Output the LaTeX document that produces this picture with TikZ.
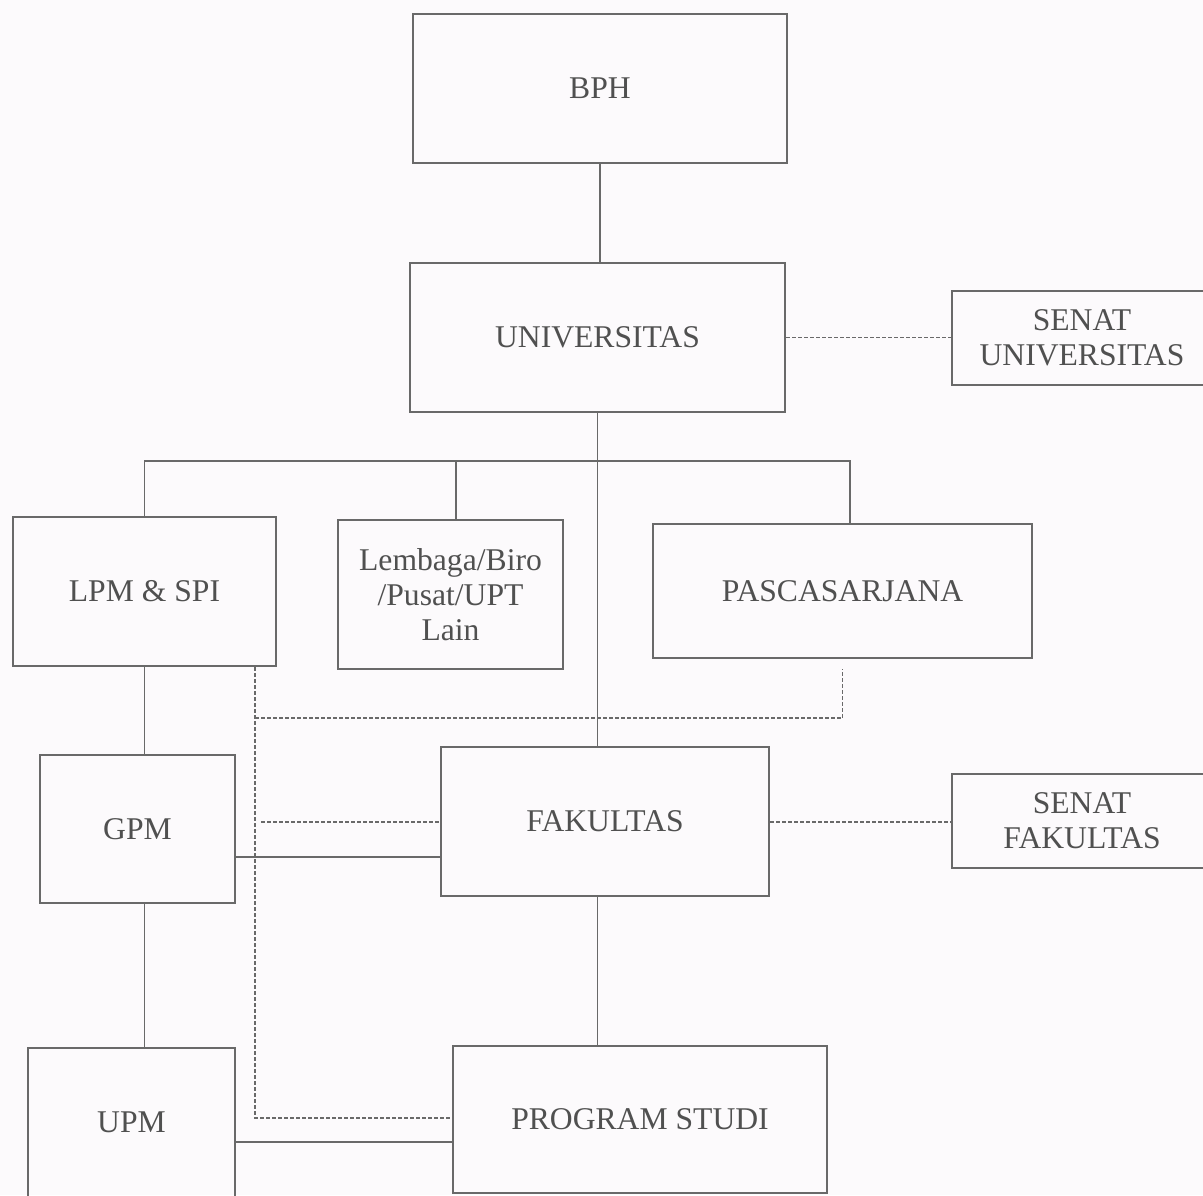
\documentclass[tikz,border=0pt]{standalone}
\usepackage{fontspec}
\setmainfont{Liberation Serif}
\usetikzlibrary{positioning, calc}
\definecolor{linegray}{RGB}{105,105,105}
\definecolor{textgray}{RGB}{80,80,80}
\definecolor{paper}{RGB}{252,250,252}
\begin{document}
\begin{tikzpicture}[x=0.2mm,y=-0.2mm,
	unit/.style={draw=linegray,line width=0.4mm,rectangle,align=center,text=textgray,inner sep=0pt,font=\fontsize{18}{20}\selectfont},
	link/.style={draw=linegray,line width=0.35mm},
	dotlink/.style={draw=linegray,line width=0.3mm,dash pattern=on 0.7mm off 0.5mm}]
			\fill[paper] (0,0) rectangle (1203,1195);
			\useasboundingbox (0,0) rectangle (1203,1195);
			\clip (0,0) rectangle (1203,1195);
			\node[unit,minimum width=74.8mm,minimum height=29.8mm] (bph) at (600,88.5) {BPH};
			\node[unit,minimum width=75mm,minimum height=29.8mm] (univ) at (597.5,337.5) {UNIVERSITAS};
			\node[unit,minimum width=52mm,minimum height=18.8mm] (senatu) at (1082,338) {SENAT\\UNIVERSITAS};
			\node[unit,minimum width=52.6mm,minimum height=29.8mm] (lpm) at (144.5,591.5) {LPM \& SPI};
			\node[unit,minimum width=45mm,minimum height=29.8mm] (lembaga) at (450.5,594.5) {Lembaga/Biro\\/Pusat/UPT\\Lain};
			\node[unit,minimum width=75.8mm,minimum height=26.8mm] (pasca) at (842.5,591) {PASCASARJANA};
			\node[unit,minimum width=39mm,minimum height=29.6mm] (gpm) at (137.5,829) {GPM};
			\node[unit,minimum width=65.6mm,minimum height=29.8mm] (fak) at (605,821.5) {FAKULTAS};
			\node[unit,minimum width=52mm,minimum height=18.8mm] (senatf) at (1082,821) {SENAT\\FAKULTAS};
			\node[unit,minimum width=41.4mm,minimum height=29.8mm] (upm) at (131.5,1122.5) {UPM};
			\node[unit,minimum width=74.8mm,minimum height=29.4mm] (prodi) at (640,1119.5) {PROGRAM STUDI};
			\coordinate (bar) at (0,461);
			\coordinate (gf) at (0,857);
			\coordinate (up) at (0,1142);
			\coordinate (dl) at (255,0);
			\coordinate (dh) at (0,718);
			\coordinate (df) at (0,822);
			\coordinate (dp) at (0,1118);
			\coordinate (pascatop) at ($(pasca.north)+(7.5,0)$);
			\coordinate (lembagatop) at ($(lembaga.north)+(5.5,0)$);
			% garis komando
			\draw[link] (bph.south) -- (bph.south |- univ.north);
			\draw[link] (univ.south) -- (univ.south |- fak.north);
			\draw[link] (lpm.north) |- (bar -| pascatop) -- (pascatop);
			\draw[link] (lembagatop) -- (lembagatop |- bar);
			\draw[link] (lpm.south) -- (lpm.south |- gpm.north);
			\draw[link] (lpm.south |- gpm.south) -- (lpm.south |- upm.north);
			\draw[link] (gpm.east |- gf) -- (fak.west |- gf);
			\draw[link] (upm.east |- up) -- (prodi.west |- up);
			\draw[link] (fak.south -| univ.south) -- (univ.south |- prodi.north);
			% garis koordinasi
			\draw[dotlink] (univ.east) -- (senatu.west |- univ.east);
			\draw[dotlink] (fak.east |- df) -- (senatf.west |- df);
			\draw[dotlink] (lpm.south -| dl) -- (dl |- dp) -- (prodi.west |- dp);
			\draw[dotlink] (dl |- dh) -- (dh -| pasca.south) -- ($(pasca.south)+(0,10)$);
			\draw[dotlink] ($(dl |- df)+(6,0)$) -- (fak.west |- df);
\end{tikzpicture}
\end{document}
